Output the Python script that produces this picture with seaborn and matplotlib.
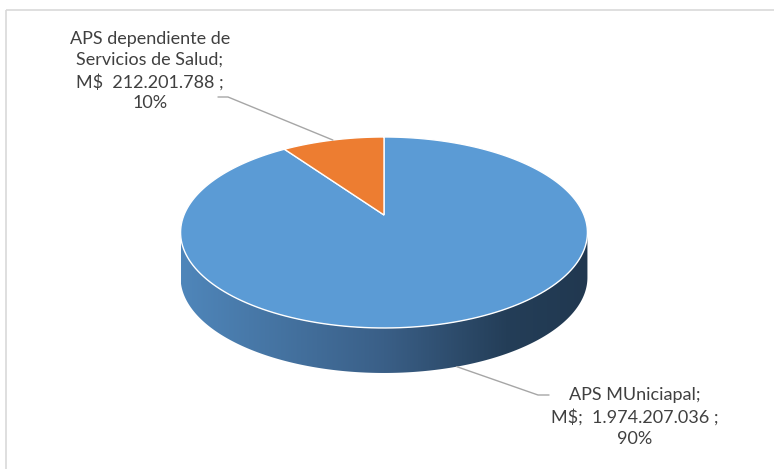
import numpy as np
import seaborn as sns
import matplotlib.pyplot as plt
from matplotlib.patches import Polygon, Rectangle
from matplotlib.colors import LinearSegmentedColormap

# data
categories = ["APS MUniciapal", "APS dependiente de\nServicios de Salud"]
amounts = [1974207036, 212201788]
amount_labels = ["M$;  1.974.207.036 ;", "M$  212.201.788 ;"]
pct_labels = ["90%", "10%"]
colors = ["#5b9bd5", "#ed7d31"]

sns.set_theme(style="white")
plt.rcParams['font.family'] = ['Lato', 'DejaVu Sans']

W, H = 774, 469
fig = plt.figure(figsize=(W / 100, H / 100), dpi=100)
ax = fig.add_axes([0, 0, 1, 1])
ax.set_xlim(0, W)
ax.set_ylim(H, 0)
ax.axis('off')

# chart frame (only top/left edges visible in the crop)
ax.add_patch(Rectangle((6, 10), W, H, fill=False, edgecolor="#d9d9d9", lw=1.2))

# 3d pie geometry, pixel space
cx, cy = 384, 215
rx, ry = 200, 92.3
persp = 0.183
depth = 45


def proj(phi, drop=0.0):
    u = np.sin(phi)
    v = -np.cos(phi)
    w = 1 - persp * v
    return cx + rx * u / w, cy + ry * v / w + drop


fracs = np.array(amounts) / sum(amounts)
bounds = np.concatenate([[0], np.cumsum(fracs)]) * 2 * np.pi

# side wall (front half only)
edge = np.arcsin(np.sqrt(1 - persp ** 2))
phi_side = np.linspace(np.pi - edge, np.pi + edge, 200)
tx, ty = proj(phi_side)
bx, by = proj(phi_side[::-1], depth)
side = Polygon(np.column_stack([np.r_[tx, bx], np.r_[ty, by]]), closed=True,
               facecolor="none", edgecolor="none")
ax.add_patch(side)
grad = LinearSegmentedColormap.from_list(
    "side", [(0, "#4f86ba"), (0.5, "#3a5f87"), (0.8, "#243e58"), (1, "#213850")])
img = ax.imshow(np.linspace(0, 1, 256).reshape(1, -1), cmap=grad, aspect="auto",
                extent=(tx.min(), tx.max(), by.max() + 2, ty.min() - 2), zorder=1)
img.set_clip_path(side)
ax.set_xlim(0, W)
ax.set_ylim(H, 0)

# top faces
for i, col in enumerate(colors):
    phis = np.linspace(bounds[i], bounds[i + 1], 200)
    px, py = proj(phis)
    pts = np.column_stack([np.r_[cx, px], np.r_[cy, py]])
    ax.add_patch(Polygon(pts, closed=True, facecolor=col, edgecolor="white",
                         lw=1.0, zorder=2))

# leader lines
mids = (bounds[:-1] + bounds[1:]) / 2
lx0, ly0 = proj(mids[1])
ax.plot([lx0, 228, 218], [ly0, 97, 97], color="#a6a6a6", lw=1, zorder=3)
lx1, ly1 = proj(mids[0], depth)
ax.plot([lx1, 538, 549], [ly1, 395, 395], color="#a6a6a6", lw=1, zorder=3)

# labels
txt_kw = dict(ha="center", va="center", color="#404040", fontsize=13,
              linespacing=1.4)
ax.text(150, 71, f"{categories[1]};\n{amount_labels[1]}\n{pct_labels[1]}", **txt_kw)
ax.text(635, 417, f"{categories[0]};\n{amount_labels[0]}\n{pct_labels[0]}", **txt_kw)

fig.savefig("out.png", dpi=100)
